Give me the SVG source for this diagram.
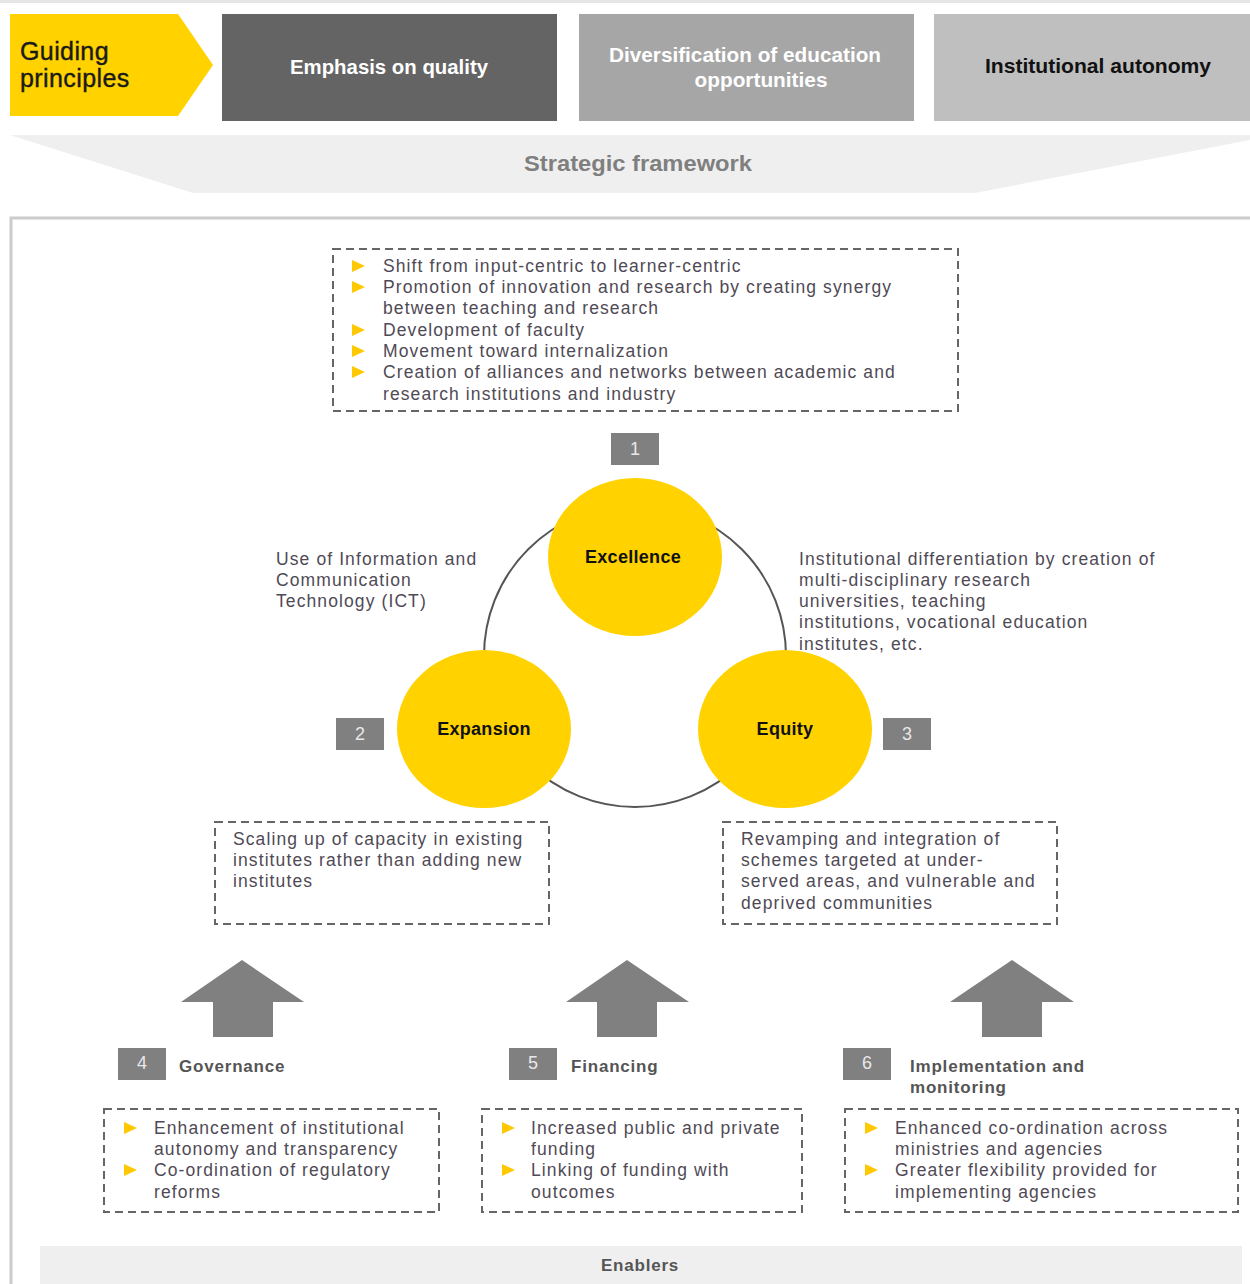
<svg xmlns="http://www.w3.org/2000/svg" width="1250" height="1284" viewBox="0 0 1250 1284">
<defs>
<style>
.body{font-family:"Liberation Sans",Arial,sans-serif;font-size:17.5px;letter-spacing:1.1px;fill:#4f4a55;}
.hdr{font-family:"Liberation Sans",Arial,sans-serif;font-weight:bold;font-size:20px;}
.num{font-family:"Liberation Sans",Arial,sans-serif;font-size:18px;fill:#e8e8e8;text-anchor:middle;}
.lbl{font-family:"Liberation Sans",Arial,sans-serif;font-weight:bold;font-size:17px;letter-spacing:0.8px;fill:#555;}
.circ{font-family:"Liberation Sans",Arial,sans-serif;font-weight:bold;font-size:18px;letter-spacing:0.3px;fill:#111;text-anchor:middle;}
.dash{fill:none;stroke:#666;stroke-width:2;stroke-dasharray:8 5;}
.numbox{fill:#808080;}
.bullet{fill:#FFC800;}
.yel{fill:#FFD200;}
.arrow{fill:#808080;}
</style>
<polygon id="tri" points="0,0 13,6 0,12"/>
</defs>
<rect width="1250" height="1284" fill="#fff"/>
<rect x="0" y="0" width="1250" height="3" fill="#e6e6e6"/>

<g id="guiding">
<polygon class="yel" points="10,14 178,14 213,65 178,116 10,116"/>
<text font-family="Liberation Sans,Arial,sans-serif" font-size="25" letter-spacing="0.4" fill="#1a1a1a" stroke="#1a1a1a" stroke-width="0.4"><tspan x="20" y="60">Guiding</tspan><tspan x="20" y="87">principles</tspan></text>
</g>
<g id="quality">
<rect x="222" y="14" width="335" height="107" fill="#646464"/>
<text class="hdr" x="389" y="74" fill="#fff" text-anchor="middle" textLength="198" lengthAdjust="spacingAndGlyphs">Emphasis on quality</text>
</g>
<g id="diversification">
<rect x="579" y="14" width="335" height="107" fill="#a6a6a6"/>
<text class="hdr" fill="#fff" text-anchor="middle"><tspan x="745" y="62" textLength="272" lengthAdjust="spacingAndGlyphs">Diversification of education</tspan><tspan x="761" y="87" textLength="133" lengthAdjust="spacingAndGlyphs">opportunities</tspan></text>
</g>
<g id="autonomy">
<rect x="934" y="14" width="316" height="107" fill="#bfbfbf"/>
<text class="hdr" x="1098" y="73" fill="#111" text-anchor="middle" textLength="226" lengthAdjust="spacingAndGlyphs">Institutional autonomy</text>
</g>
<g id="strategic">
<polygon points="10,135 1250,135 1250,140 975,193 193,193" fill="#efefef"/>
<text x="638" y="171" font-family="Liberation Sans,Arial,sans-serif" font-weight="bold" font-size="22" fill="#7f7f7f" text-anchor="middle" textLength="228" lengthAdjust="spacingAndGlyphs">Strategic framework</text>
</g>

<g id="frame">
<polyline points="11,1284 11,218 1250,218" fill="none" stroke="#cccccc" stroke-width="3"/>
</g>

<g id="connectors">
<circle cx="635" cy="656" r="151" fill="none" stroke="#555" stroke-width="2"/>
</g>

<g id="excellence-list">
<rect class="dash" x="333" y="249" width="625" height="162"/>
<g class="bullet">
<use href="#tri" x="352" y="260"/><use href="#tri" x="352" y="281"/><use href="#tri" x="352" y="324"/><use href="#tri" x="352" y="345"/><use href="#tri" x="352" y="366"/>
</g>
<text class="body"><tspan x="383" y="272">Shift from input-centric to learner-centric</tspan><tspan x="383" y="293">Promotion of innovation and research by creating synergy</tspan><tspan x="383" y="314">between teaching and research</tspan><tspan x="383" y="336">Development of faculty</tspan><tspan x="383" y="357">Movement toward internalization</tspan><tspan x="383" y="378">Creation of alliances and networks between academic and</tspan><tspan x="383" y="400">research institutions and industry</tspan></text>
</g>

<g id="n1"><rect class="numbox" x="611" y="433" width="48" height="32"/><text class="num" x="635" y="455">1</text></g>
<g id="n2"><rect class="numbox" x="336" y="718" width="48" height="32"/><text class="num" x="360" y="740">2</text></g>
<g id="n3"><rect class="numbox" x="883" y="718" width="48" height="32"/><text class="num" x="907" y="740">3</text></g>

<g id="excellence"><ellipse class="yel" cx="635" cy="557" rx="87" ry="79"/><text class="circ" x="633" y="563">Excellence</text></g>
<g id="expansion"><ellipse class="yel" cx="484" cy="729" rx="87" ry="79"/><text class="circ" x="484" y="735">Expansion</text></g>
<g id="equity"><ellipse class="yel" cx="785" cy="729" rx="87" ry="79"/><text class="circ" x="785" y="735">Equity</text></g>

<g id="ict">
<text class="body"><tspan x="276" y="565">Use of Information and</tspan><tspan x="276" y="586">Communication</tspan><tspan x="276" y="607">Technology (ICT)</tspan></text>
</g>
<g id="differentiation">
<text class="body"><tspan x="799" y="565">Institutional differentiation by creation of</tspan><tspan x="799" y="586">multi-disciplinary research</tspan><tspan x="799" y="607">universities, teaching</tspan><tspan x="799" y="628">institutions, vocational education</tspan><tspan x="799" y="650">institutes, etc.</tspan></text>
</g>

<g id="expansion-box">
<rect class="dash" x="215" y="822" width="334" height="102"/>
<text class="body"><tspan x="233" y="845">Scaling up of capacity in existing</tspan><tspan x="233" y="866">institutes rather than adding new</tspan><tspan x="233" y="887">institutes</tspan></text>
</g>
<g id="equity-box">
<rect class="dash" x="723" y="822" width="334" height="102"/>
<text class="body"><tspan x="741" y="845">Revamping and integration of</tspan><tspan x="741" y="866">schemes targeted at under-</tspan><tspan x="741" y="887">served areas, and vulnerable and</tspan><tspan x="741" y="909">deprived communities</tspan></text>
</g>

<g id="arrows">
<polygon class="arrow" points="242,960 304,1002 273,1002 273,1037 213,1037 213,1002 181,1002"/>
<polygon class="arrow" points="627,960 689,1002 657,1002 657,1037 597,1037 597,1002 566,1002"/>
<polygon class="arrow" points="1012,960 1074,1002 1042,1002 1042,1037 982,1037 982,1002 950,1002"/>
</g>

<g id="governance">
<rect class="numbox" x="118" y="1048" width="48" height="32"/><text class="num" x="142" y="1069">4</text>
<text class="lbl" x="179" y="1072">Governance</text>
<rect class="dash" x="104" y="1109" width="335" height="103"/>
<g class="bullet"><use href="#tri" x="124" y="1122"/><use href="#tri" x="124" y="1164"/></g>
<text class="body"><tspan x="154" y="1134">Enhancement of institutional</tspan><tspan x="154" y="1155">autonomy and transparency</tspan><tspan x="154" y="1176">Co-ordination of regulatory</tspan><tspan x="154" y="1198">reforms</tspan></text>
</g>
<g id="financing">
<rect class="numbox" x="509" y="1048" width="48" height="32"/><text class="num" x="533" y="1069">5</text>
<text class="lbl" x="571" y="1072">Financing</text>
<rect class="dash" x="482" y="1109" width="320" height="103"/>
<g class="bullet"><use href="#tri" x="502" y="1122"/><use href="#tri" x="502" y="1164"/></g>
<text class="body"><tspan x="531" y="1134">Increased public and private</tspan><tspan x="531" y="1155">funding</tspan><tspan x="531" y="1176">Linking of funding with</tspan><tspan x="531" y="1198">outcomes</tspan></text>
</g>
<g id="implementation">
<rect class="numbox" x="843" y="1048" width="48" height="32"/><text class="num" x="867" y="1069">6</text>
<text class="lbl"><tspan x="910" y="1072">Implementation and</tspan><tspan x="910" y="1093">monitoring</tspan></text>
<rect class="dash" x="845" y="1109" width="393" height="103"/>
<g class="bullet"><use href="#tri" x="865" y="1122"/><use href="#tri" x="865" y="1164"/></g>
<text class="body"><tspan x="895" y="1134">Enhanced co-ordination across</tspan><tspan x="895" y="1155">ministries and agencies</tspan><tspan x="895" y="1176">Greater flexibility provided for</tspan><tspan x="895" y="1198">implementing agencies</tspan></text>
</g>

<g id="enablers">
<rect x="40" y="1246" width="1202" height="40" fill="#efefef"/>
<text class="lbl" x="640" y="1271" text-anchor="middle">Enablers</text>
</g>
</svg>
